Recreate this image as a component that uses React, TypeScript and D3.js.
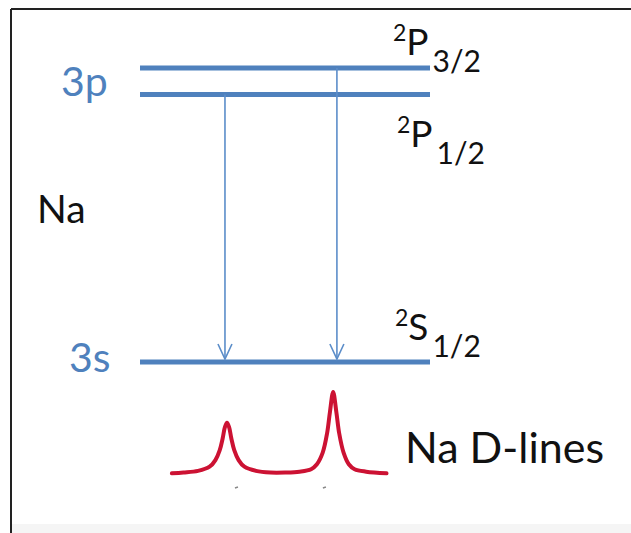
import React from "react";
import * as d3 from "d3";

// ---- data ----
const levelNames = ["2P3/2", "2P1/2", "2S1/2"];
const levelEnergy = [10, 9.1, 0]; // schematic energy units
const levelTerm = ["P", "P", "S"];
const levelSub = ["3/2", "1/2", "1/2"];
const shellLabels = ["3p", "3s"];
const shellEnergy = [9.55, 0];

const transitionX = [29.3, 67.9];
const transitionFrom = [1, 0]; // index into levels
const transitionTo = [2, 2];

const specX = [11, 15, 20, 24, 26, 27.5, 28.5, 29.3, 30, 30.7, 31.5, 32.5, 34, 36, 40, 45, 50, 55, 59, 61, 63, 64.5, 65.5, 66.6, 67.7, 68.7, 70.2, 72, 74, 78, 85];
const specI = [0.02, 0.03, 0.05, 0.1, 0.18, 0.3, 0.44, 0.58, 0.63, 0.58, 0.44, 0.3, 0.18, 0.1, 0.05, 0.03, 0.03, 0.04, 0.07, 0.13, 0.27, 0.5, 0.76, 1.0, 0.76, 0.5, 0.27, 0.13, 0.07, 0.04, 0.02];

const W = 631;
const H = 533;
const BLUE = "#4f81bd";
const ARROW = "#5b8dc9";
const RED = "#cc1233";
const FONT = "Lato, 'Open Sans', sans-serif";

export default function App() {
  const x = d3.scaleLinear().domain([0, 100]).range([140, 430]);
  const yE = d3.scaleLinear().domain([0, 10]).range([362, 68]);
  const yS = d3.scaleLinear().domain([0, 1]).range([475, 392]);

  const pts: [number, number][] = specX.map((v, i) => [v, specI[i]]);
  const specPath = d3
    .line<[number, number]>()
    .x((d) => x(d[0]))
    .y((d) => yS(d[1]))
    .curve(d3.curveCatmullRom.alpha(0.5))(pts) as string;

  const labelY = [55, 147, 340];
  const labelX = [393, 397, 395];
  return (
    <svg
      width={W}
      height={H}
      style={{ position: "absolute", left: 0, top: 0, background: "#fff" }}
    >
      <rect x={0} y={0} width={W} height={H} fill="#fff" />
      <rect x={12} y={524} width={W - 12} height={H - 524} fill="#f5f5f5" />
      {/* frame */}
      <line x1={11} y1={9} x2={W} y2={9} stroke="#222" strokeWidth={2} />
      <line x1={11} y1={9} x2={11} y2={H} stroke="#222" strokeWidth={2} />

      {/* energy levels */}
      {levelEnergy.map((e, i) => (
        <line
          key={"lv" + i}
          x1={x(0)}
          x2={x(100)}
          y1={yE(e)}
          y2={yE(e)}
          stroke={BLUE}
          strokeWidth={5}
        />
      ))}

      {/* transitions */}
      {transitionX.map((tx, i) => {
        const px = x(tx);
        const y1 = yE(levelEnergy[transitionFrom[i]]);
        const y2 = yE(levelEnergy[transitionTo[i]]) - 3;
        return (
          <g key={"tr" + i} stroke={ARROW} strokeWidth={1.6} fill="none">
            <line x1={px} x2={px} y1={y1} y2={y2} />
            <polyline
              points={`${px - 7},${y2 - 15} ${px},${y2} ${px + 7},${y2 - 15}`}
            />
          </g>
        );
      })}

      {/* shell labels */}
      {shellLabels.map((s, i) => (
        <text
          key={"sh" + i}
          x={i === 0 ? 61 : 69}
          y={yE(shellEnergy[i]) + (i === 0 ? 15 : 10)}
          fill={BLUE}
          fontFamily={FONT}
          fontSize={41}
        >
          {s}
        </text>
      ))}
      <text x={37} y={223} fill="#111" fontFamily={FONT} fontSize={39}>
        Na
      </text>

      {/* term labels */}
      {levelNames.map((n, i) => (
        <text
          key={"tl" + i}
          x={labelX[i]}
          y={labelY[i]}
          fill="#111"
          fontFamily={FONT}
          fontSize={37}
        >
          <tspan fontSize={23} dy={-14}>
            2
          </tspan>
          <tspan dy={14}>{levelTerm[i]}</tspan>
          <tspan fontSize={30} dy={17} dx={4}>
            {levelSub[i]}
          </tspan>
        </text>
      ))}

      {/* spectrum */}
      <path d={specPath} fill="none" stroke={RED} strokeWidth={4} strokeLinejoin="round" strokeLinecap="round" />
      {transitionX.map((tx, i) => (
        <line
          key={"tk" + i}
          x1={x(tx) + (i === 0 ? 10 : -14)}
          x2={x(tx) + (i === 0 ? 13 : -11)}
          y1={488}
          y2={487}
          stroke="#888"
          strokeWidth={1.5}
        />
      ))}
      <text x={405} y={463} fill="#111" fontFamily={FONT} fontSize={43}>
        Na D-lines
      </text>
    </svg>
  );
}
